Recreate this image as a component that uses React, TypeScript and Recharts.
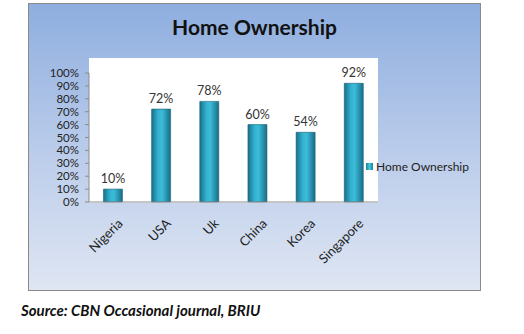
import { BarChart, Bar, XAxis, YAxis, CartesianGrid, LabelList, Legend } from 'recharts';

const countries = ['Nigeria', 'USA', 'Uk', 'China', 'Korea', 'Singapore'];
const ownership = [0.1, 0.72, 0.78, 0.6, 0.54, 0.92];
const yTicks = [0, 0.1, 0.2, 0.3, 0.4, 0.5, 0.6, 0.7, 0.8, 0.9, 1];
const boundaryTicks = [0, 1, 2, 3, 4, 5, 6];

const data = countries.map((country, i) => ({ country, value: ownership[i] }));

const FONT = 'Lato, "Open Sans", sans-serif';
const pct = (v: number) => `${Math.round(v * 100)}%`;

const CountryTick = ({ x, y, payload }: any) => (
  <g transform={`translate(${x + 4},${y + 2})`}>
    <text transform="rotate(-45)" textAnchor="end" dy={9} fill="#222" fontSize={13} fontFamily={FONT}>
      {payload.value}
    </text>
  </g>
);

const LegendBox = () => (
  <div style={{ display: 'flex', alignItems: 'center', fontFamily: FONT, fontSize: 12, color: '#222' }}>
    <span
      style={{
        width: 7,
        height: 7,
        marginRight: 3,
        background: 'linear-gradient(90deg, #1b7f9a, #45c6e0, #1b7f9a)',
      }}
    />
    Home Ownership
  </div>
);

export default function App() {
  return (
    <div style={{ position: 'absolute', left: 0, top: 0, width: 524, height: 334, background: '#fff' }}>
      <div
        style={{
          position: 'absolute',
          left: 28,
          top: 3,
          width: 451,
          height: 286,
          border: '1px solid #8a8a8a',
          background: 'linear-gradient(180deg, #8eaedf 0%, #b9cbea 50%, #dfe6f3 100%)',
        }}
      >
        <div
          style={{
            position: 'absolute',
            left: 0,
            width: 451,
            top: 10,
            textAlign: 'center',
            fontFamily: FONT,
            fontWeight: 700,
            fontSize: 21,
            color: '#111',
          }}
        >
          Home Ownership
        </div>
        <BarChart
          width={451}
          height={286}
          data={data}
          margin={{ top: 54, right: 102, bottom: 0, left: 0 }}
          barCategoryGap="30%"
        >
          <defs>
            <linearGradient id="barFill" x1="0" y1="0" x2="1" y2="0">
              <stop offset="0%" stopColor="#17708a" />
              <stop offset="35%" stopColor="#33b3d1" />
              <stop offset="55%" stopColor="#3cbcd8" />
              <stop offset="100%" stopColor="#176d88" />
            </linearGradient>
          </defs>
          <rect x={60} y={54} width={289} height={145} fill="#fff" />
          <CartesianGrid vertical={false} stroke="#8c8c8c" />
          <XAxis
            xAxisId="bounds"
            type="number"
            domain={[0, 6]}
            ticks={boundaryTicks}
            tick={false}
            height={6}
            tickSize={4}
            stroke="#8c8c8c"
          />
          <XAxis
            dataKey="country"
            xAxisId="cat"
            axisLine={false}
            tickLine={false}
            interval={0}
            height={82}
            tick={<CountryTick />}
          />
          <YAxis
            domain={[0, 1]}
            ticks={yTicks}
            interval={0}
            tickFormatter={pct}
            width={60}
            tickSize={4}
            tickMargin={6}
            stroke="#8c8c8c"
            tick={{ fill: '#222', fontSize: 11.5, fontFamily: FONT }}
          />
          <Legend
            verticalAlign="top"
            align="left"
            content={<LegendBox />}
            wrapperStyle={{ position: 'absolute', left: 337, top: 155, width: 110 }}
          />
          <Bar
            dataKey="value"
            xAxisId="cat"
            fill="url(#barFill)"
            stroke="#1b5f73"
            strokeWidth={0.6}
            isAnimationActive={false}
            maxBarSize={20}
          >
            <LabelList
              dataKey="value"
              position="top"
              offset={6}
              formatter={(v: any) => pct(Number(v))}
              fill="#333"
              fontSize={12.5}
              fontFamily={FONT}
            />
          </Bar>
        </BarChart>
      </div>
      <div
        style={{
          position: 'absolute',
          left: 21,
          top: 301,
          fontFamily: FONT,
          fontWeight: 700,
          fontStyle: 'italic',
          fontSize: 15,
          color: '#111',
        }}
      >
        Source: CBN Occasional journal, BRIU
      </div>
    </div>
  );
}
